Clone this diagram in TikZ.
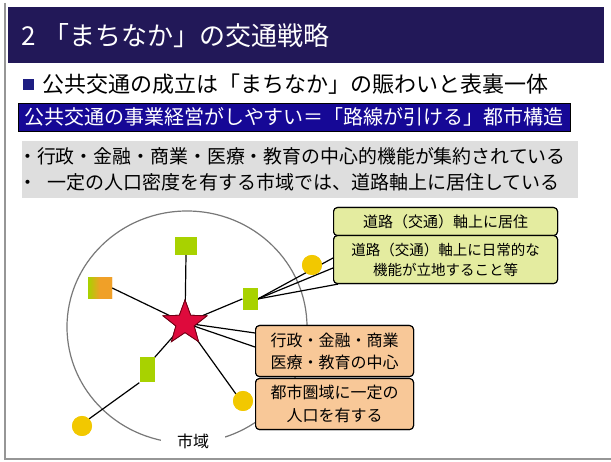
\documentclass[tikz,border=0pt]{standalone}
\usepackage{fontspec}
\setmainfont{Noto Sans CJK JP}
\usetikzlibrary{shapes.geometric}
\definecolor{titlebg}{RGB}{34,24,88}
\definecolor{barbg}{RGB}{22,8,150}
\definecolor{graybg}{RGB}{222,222,222}
\definecolor{boxgreen}{RGB}{228,236,160}
\definecolor{boxpeach}{RGB}{248,200,152}
\definecolor{facgreen}{RGB}{168,210,0}
\definecolor{facorange}{RGB}{240,160,40}
\definecolor{resyellow}{RGB}{242,200,0}
\definecolor{starred}{RGB}{222,10,60}
\definecolor{stardark}{RGB}{110,0,20}
\definecolor{sqblue}{RGB}{30,30,130}
\definecolor{framegray}{RGB}{150,150,150}
\newcommand\jfs[2]{\fontsize{#1}{#2}\selectfont}
\begin{document}
\begin{tikzpicture}[x=1pt,y=-1pt,every node/.style={inner sep=0pt},
  conn/.style={draw=black,line width=1.2pt},
  fac/.style={fill=facgreen,minimum width=15pt,minimum height=22pt},
  facmix/.style={minimum width=24pt,minimum height=21pt,left color=facgreen,right color=facorange,middle color=facorange},
  res/.style={circle,fill=resyellow,minimum size=20pt},
  starnode/.style={star,star points=5,star point ratio=2.4,minimum size=46pt,fill=starred,draw=stardark,line width=0.8pt},
  gbox/.style={draw=black,line width=1.1pt,rounded corners=4pt,fill=boxgreen,align=center,minimum width=224pt},
  pbox/.style={draw=black,line width=1.1pt,rounded corners=4pt,fill=boxpeach,align=center,minimum width=158pt,minimum height=51pt}]
\useasboundingbox (0,0) rectangle (611,462);
\fill[white] (0,0) rectangle (611,462);
% frame
\draw[framegray,line width=2pt] (5,3) -- (5,459) -- (611,459);
% title
\fill[titlebg] (8,7) rectangle (604,63);
\node[anchor=west,text=white,font=\jfs{26}{30}] (tnum) at (21,36) {2};
\node[anchor=west,text=white,font=\jfs{26}{30}] (title) at (43,36) {「まちなか」の交通戦略};
% headline
\node[fill=sqblue,minimum size=11pt] (sq) at (28,85) {};
\node[anchor=west,font=\jfs{22}{26}] (l1) at (42,84) {公共交通の成立は「まちなか」の賑わいと表裏一体};
% bar
\node[draw=black,line width=1.2pt,fill=barbg,minimum width=552pt,minimum height=28pt,anchor=north west] (bar) at (18,103) {};
\node[anchor=west,text=white,font=\jfs{20}{24}] (bartext) at (24,117) {公共交通の事業経営がしやすい＝「路線が引ける」都市構造};
% gray box
\node[fill=graybg,minimum width=556pt,minimum height=57pt,anchor=north west] (gray) at (22,141) {};
\node[anchor=west,font=\jfs{18.9}{22}] (bul1) at (18,156) {・行政・金融・商業・医療・教育の中心的機能が集約されている};
\node[anchor=west,font=\jfs{19}{22}] (bul2) at (18,182) {・\hspace{10pt}一定の人口密度を有する市域では、道路軸上に居住している};
% city area
\draw[framegray!80!black,line width=1.2pt] (187,327) ellipse [x radius=120, y radius=116];
% node positions
\node[fac,minimum width=22pt,minimum height=18pt] (ftop) at (186,246) {};
\node[facmix] (fleft) at (100,288) {};
\node[fac] (fright) at (250,299) {};
\node[fac,minimum height=25pt] (flow) at (147,370) {};
\node[res] (rll) at (82,426) {};
\node[res] (rlr) at (243,401) {};
\node[res] (rur) at (312,265) {};
\node[gbox,minimum height=28pt,anchor=north west,font=\jfs{15}{18}] (b1) at (333,207) {道路（交通）軸上に居住};
\node[gbox,minimum height=48pt,anchor=north west,font=\jfs{14.5}{20}] (b2) at (333,235) {道路（交通）軸上に日常的な\\機能が立地すること等};
\node[pbox,anchor=north west,font=\jfs{16}{22}] (b3) at (255,325) {行政・金融・商業\\医療・教育の中心};
\node[pbox,anchor=north west,font=\jfs{16}{23}] (b4) at (255,378) {都市圏域に一定の\\人口を有する};
\node[starnode] (star) at (185,323) {};
% connectors
\path (star.center) coordinate (sc);
\draw[conn] (sc) -- (ftop.south);
\draw[conn] (sc) -- (fleft.east);
\draw[conn] (sc) -- (fright.west);
\draw[conn] (sc) -- (flow.north east);
\draw[conn] (flow.south west) -- (rll.north east);
\draw[conn] (sc) -- (rlr.north west);
\draw[conn] (sc) -- ([yshift=-8pt]b3.north west);
\draw[conn] (sc) -- ([yshift=-22pt]b3.north west);
\draw[conn] (fright.east) -- ([yshift=-23pt]b2.north west);
\draw[conn] (fright.east) -- ([yshift=-33pt]b2.north west);
\draw[conn] (fright.east) -- ([xshift=5pt]b2.south west);
% redraw shapes on top of connectors
\node[fac,minimum width=22pt,minimum height=18pt] at (ftop) {};
\node[facmix] at (fleft) {};
\node[fac] at (fright) {};
\node[fac,minimum height=25pt] at (flow) {};
\node[res] at (rll) {};
\node[res] at (rlr) {};
\node[res] at (rur) {};
\node[starnode] at (star) {};
\node[gbox,minimum height=28pt,anchor=north west,font=\jfs{15}{18}] at (b1.north west) {道路（交通）軸上に居住};
\node[gbox,minimum height=48pt,anchor=north west,font=\jfs{14.5}{20}] at (b2.north west) {道路（交通）軸上に日常的な\\機能が立地すること等};
\node[pbox,anchor=north west,font=\jfs{16}{22}] at (b3.north west) {行政・金融・商業\\医療・教育の中心};
\node[pbox,anchor=north west,font=\jfs{16}{23}] at (b4.north west) {都市圏域に一定の\\人口を有する};
% label
\node[fill=white,inner xsep=16pt,inner ysep=2pt,font=\jfs{16}{18}] (shiiki) at (193,441) {市域};
\end{tikzpicture}
\end{document}
